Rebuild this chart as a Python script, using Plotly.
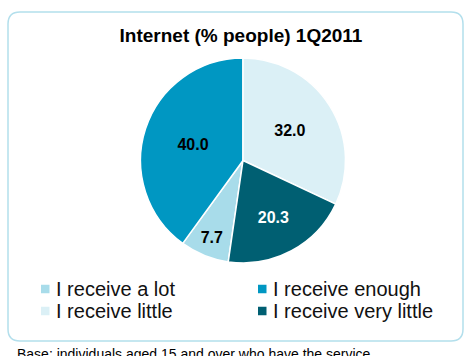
import plotly.graph_objects as go

# Share of internet users by how much they feel they receive, 1Q2011
categories = ["I receive a lot", "I receive enough", "I receive little", "I receive very little"]
values = [7.7, 40.0, 32.0, 20.3]
colors = ["#a8dcea", "#0097c2", "#dbf0f6", "#005f72"]
text_colors = ["#000000", "#000000", "#000000", "#ffffff"]

W, H = 465, 356
FONT = "Liberation Sans, Arial, sans-serif"


def px(x):
    return x / W


def py(y):
    return 1 - y / H


# start the "little" slice at 12 o'clock, slices run clockwise
offset_deg = (values[0] + values[1]) / sum(values) * 360

fig = go.Figure(go.Pie(
    labels=categories,
    values=values,
    sort=False,
    direction="clockwise",
    rotation=360 - offset_deg,
    marker=dict(colors=colors, line=dict(color="#ffffff", width=1.5)),
    texttemplate="%{value:.1f}",
    textposition="inside",
    insidetextorientation="horizontal",
    textfont=dict(family=FONT, size=16, color=text_colors, weight="bold"),
    hoverinfo="label+value",
    showlegend=False,
    domain=dict(x=[px(140.5), px(345.5)], y=[py(263), py(58)]),
))

# rounded panel frame
x0, y0, x1, y1, r = px(8), py(12), px(463), py(341), 12
rx, ry = r / W, r / H
path = (f"M {x0 + rx},{y0} L {x1 - rx},{y0} Q {x1},{y0} {x1},{y0 - ry} "
        f"L {x1},{y1 + ry} Q {x1},{y1} {x1 - rx},{y1} "
        f"L {x0 + rx},{y1} Q {x0},{y1} {x0},{y1 + ry} "
        f"L {x0},{y0 - ry} Q {x0},{y0} {x0 + rx},{y0} Z")
shapes = [dict(type="path", path=path, xref="paper", yref="paper",
               line=dict(color="#b3dfec", width=1.5), fillcolor="rgba(0,0,0,0)", layer="below")]

annotations = [dict(text="Base: individuals aged 15 and over who have the service",
                    x=px(15), xanchor="left", y=py(354), yanchor="middle",
                    xref="paper", yref="paper", showarrow=False,
                    font=dict(size=14, family=FONT, color="#000000"))]

# two-column legend: swatch + label for each category
col_x = [41, 258]
row_y = [289, 311]
sw = 8.5
for i, (name, col) in enumerate(zip(categories, colors)):
    cx, cy = col_x[i % 2], row_y[i // 2]
    shapes.append(dict(type="rect", xref="paper", yref="paper",
                       x0=px(cx), x1=px(cx + sw), y0=py(cy + sw / 2), y1=py(cy - sw / 2),
                       fillcolor=col, line=dict(width=0)))
    annotations.append(dict(text=name, x=px(cx + 13), xanchor="left", y=py(cy), yanchor="middle",
                            xref="paper", yref="paper", showarrow=False,
                            font=dict(size=20, family=FONT, color="#111111")))

fig.update_layout(
    width=W, height=H,
    margin=dict(l=0, r=0, t=0, b=0),
    paper_bgcolor="#ffffff",
    font=dict(family=FONT, color="#000000"),
    title=dict(text="<b>Internet (% people) 1Q2011</b>", x=px(241), xanchor="center",
               y=py(35), yanchor="middle", font=dict(size=19, family=FONT)),
    shapes=shapes,
    annotations=annotations,
)

fig.write_html("out.html")
